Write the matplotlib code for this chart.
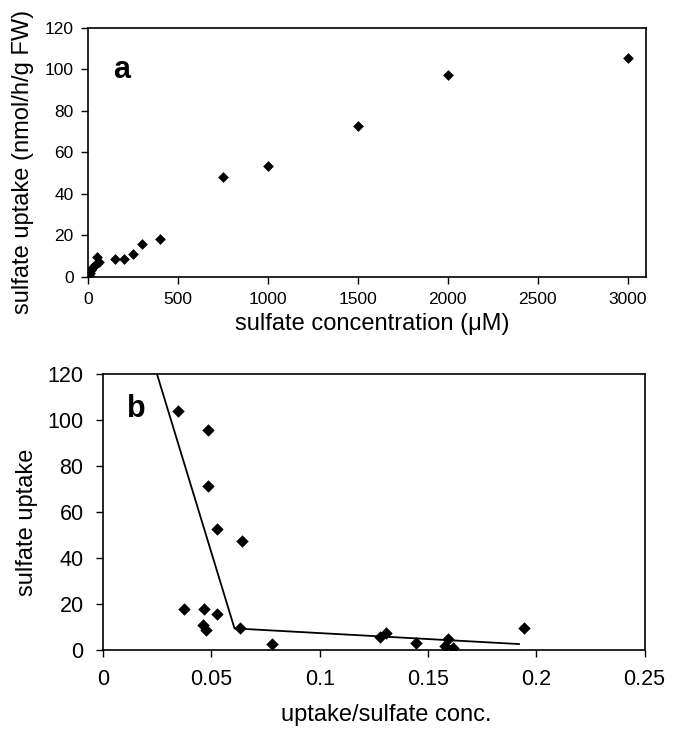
import matplotlib
matplotlib.use("Agg")
import matplotlib.pyplot as plt

plt.rcParams['font.family'] = ['Liberation Sans', 'DejaVu Sans']

# Panel a data
conc_a = [5, 10, 20, 30, 40, 50, 60, 150, 200, 250, 300, 400, 750, 1000, 1500, 2000, 3000]
uptake_a = [0.8, 1.7, 3.2, 4.6, 5.5, 9.6, 7.2, 8.5, 8.5, 10.9, 15.6, 18.0, 47.9, 53.3, 72.5, 97.3, 105.5]

# Panel b data (Eadie-Hofstee type)
ratio_b = [0.0348, 0.0484, 0.0484, 0.0528, 0.0641, 0.0374, 0.0468, 0.0528, 0.0461, 0.0476,
           0.0633, 0.0780, 0.1308, 0.1280, 0.1445, 0.1591, 0.1577, 0.1616, 0.1945]
uptake_b = [104.0, 95.7, 71.4, 52.5, 47.4, 17.8, 17.8, 15.5, 10.9, 8.7,
            9.4, 2.6, 7.2, 5.5, 3.2, 4.6, 1.7, 0.7, 9.4]

# Fitted line vertices for panel b
line_x = [0.0249, 0.0607, 0.192]
line_y = [120.0, 9.4, 2.6]

xticks_a = [0, 500, 1000, 1500, 2000, 2500, 3000]
yticks = [0, 20, 40, 60, 80, 100, 120]
xticks_b = [0, 0.05, 0.1, 0.15, 0.2, 0.25]
xticklabels_b = ['0', '0.05', '0.1', '0.15', '0.2', '0.25']

fig = plt.figure(figsize=(6.75, 7.34), dpi=100)

ax1 = fig.add_axes([0.130, 0.623, 0.8266, 0.3393])
ax1.scatter(conc_a, uptake_a, marker='D', s=30, color='black', linewidths=0, zorder=3)
ax1.set_xlim(0, 3100)
ax1.set_ylim(0, 120)
ax1.set_xticks(xticks_a)
ax1.set_yticks(yticks)
ax1.tick_params(direction='out', length=5, width=1, labelsize=12.5, colors='black')
ax1.tick_params(axis='x', pad=6)
ax1.tick_params(axis='y', pad=5)
ax1.set_xlabel('sulfate concentration (\u03bcM)', fontsize=17, labelpad=4)
ax1.set_ylabel('sulfate uptake (nmol/h/g FW)', fontsize=17, labelpad=8)
ax1.xaxis.label.set_x(0.51)
ax1.yaxis.label.set_y(0.46)
ax1.text(0.045, 0.83, 'a', transform=ax1.transAxes, fontsize=22, fontweight='bold', va='center', ha='left')
for sp in ax1.spines.values():
    sp.set_linewidth(1.2)

ax2 = fig.add_axes([0.1526, 0.1144, 0.8024, 0.3761])
ax2.plot(line_x, line_y, color='black', linewidth=1.3, zorder=2, clip_on=True)
ax2.scatter(ratio_b, uptake_b, marker='D', s=40, color='black', linewidths=0, zorder=3)
ax2.set_xlim(0, 0.25)
ax2.set_ylim(0, 120)
ax2.set_xticks(xticks_b)
ax2.set_xticklabels(xticklabels_b)
ax2.set_yticks(yticks)
ax2.tick_params(direction='out', length=5, width=1, labelsize=15.5, colors='black')
ax2.tick_params(axis='x', pad=9)
ax2.tick_params(axis='y', pad=9)
ax2.set_xlabel('uptake/sulfate conc.', fontsize=17, labelpad=10)
ax2.set_ylabel('sulfate uptake', fontsize=17, labelpad=7)
ax2.xaxis.label.set_x(0.523)
ax2.yaxis.label.set_y(0.464)
ax2.text(0.044, 0.873, 'b', transform=ax2.transAxes, fontsize=22, fontweight='bold', va='center', ha='left')
for sp in ax2.spines.values():
    sp.set_linewidth(1.2)

fig.savefig('out.png', dpi=100)
